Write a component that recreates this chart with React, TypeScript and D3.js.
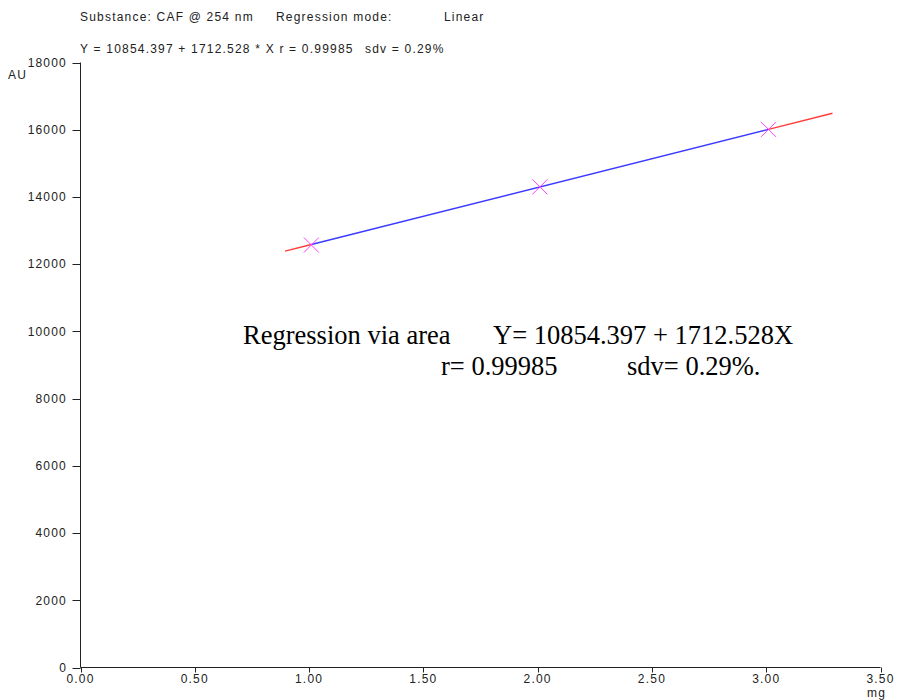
import React from 'react';
import * as d3 from 'd3';

// calibration data
const amounts = [1.01, 2.01, 3.01];
const areas = [12570, 14300, 16010];
const intercept = 10854.397;
const slope = 1712.528;
const fitFrom = 0.895;
const fitTo = 3.29;

const xTicks = [0, 0.5, 1.0, 1.5, 2.0, 2.5, 3.0, 3.5];
const yTicks = [0, 2000, 4000, 6000, 8000, 10000, 12000, 14000, 16000, 18000];

const W = 897;
const H = 700;

const x = d3.scaleLinear().domain([0, 3.5]).range([80.5, 880.5]);
const y = d3.scaleLinear().domain([0, 18000]).range([667.5, 62.5]);

const fit = (v: number) => intercept + slope * v;

const smallFont = {
    fontFamily: 'Arial, "Liberation Sans", sans-serif',
    fontSize: 12,
    letterSpacing: 1.2,
    fill: '#222',
};

const serif = {
    fontFamily: '"Times New Roman", "Liberation Serif", serif',
    fontSize: 26.5,
    fill: '#000',
};

function Axes() {
    return (
        <g>
            <line x1={x(0)} x2={x(0)} y1={y(18000)} y2={y(0)} stroke="#222" />
            <line x1={x(0)} x2={x(3.5)} y1={y(0)} y2={y(0)} stroke="#222" />
            {yTicks.map(t => (
                <g key={'y' + t}>
                    <line x1={x(0) - 8} x2={x(0)} y1={Math.round(y(t)) + 0.5} y2={Math.round(y(t)) + 0.5} stroke="#222" />
                    <text x={67} y={y(t)} dy="0.36em" textAnchor="end" style={smallFont}>{t}</text>
                </g>
            ))}
            {xTicks.map(t => (
                <g key={'x' + t}>
                    <line x1={Math.round(x(t)) + 0.5} x2={Math.round(x(t)) + 0.5} y1={y(0)} y2={y(0) + 5} stroke="#222" />
                    <text x={x(t)} y={683} textAnchor="middle" style={smallFont}>{d3.format('.2f')(t)}</text>
                </g>
            ))}
            <text x={8} y={79} style={smallFont}>AU</text>
            <text x={867} y={697} style={smallFont}>mg</text>
        </g>
    );
}

function Fit() {
    const line = d3.line<number>().x(d => x(d)).y(d => y(fit(d)));
    const first = amounts[0];
    const last = amounts[amounts.length - 1];
    const cross = 7.5;
    return (
        <g>
            <path d={line([fitFrom, first]) || ''} stroke="#ff3b3b" strokeWidth={1.4} fill="none" />
            <path d={line([last, fitTo]) || ''} stroke="#ff3b3b" strokeWidth={1.4} fill="none" />
            <path d={line([first, last]) || ''} stroke="#3b3bff" strokeWidth={1.4} fill="none" />
            {amounts.map((a, i) => {
                const cx = x(a), cy = y(areas[i]);
                return (
                    <g key={i} stroke="#ff40ff" strokeWidth={1}>
                        <line x1={cx - cross} y1={cy - cross} x2={cx + cross} y2={cy + cross} />
                        <line x1={cx - cross} y1={cy + cross} x2={cx + cross} y2={cy - cross} />
                    </g>
                );
            })}
        </g>
    );
}

export default function App() {
    return (
        <svg width={W} height={H} style={{ position: 'absolute', left: 0, top: 0, background: '#fff' }}>
            <text x={80} y={21} style={smallFont}>Substance: CAF @ 254 nm</text>
            <text x={276} y={21} style={smallFont}>Regression mode:</text>
            <text x={444} y={21} style={smallFont}>Linear</text>
            <text x={80} y={53} style={smallFont}>Y = 10854.397 + 1712.528 * X r = 0.99985</text>
            <text x={365} y={53} style={smallFont}>sdv = 0.29%</text>
            <Axes />
            <Fit />
            <text x={243} y={344} style={serif}>Regression via area</text>
            <text x={493} y={344} style={serif}>Y= 10854.397 + 1712.528X</text>
            <text x={441} y={375} style={serif}>r= 0.99985</text>
            <text x={627} y={375} style={serif}>sdv= 0.29%.</text>
        </svg>
    );
}
